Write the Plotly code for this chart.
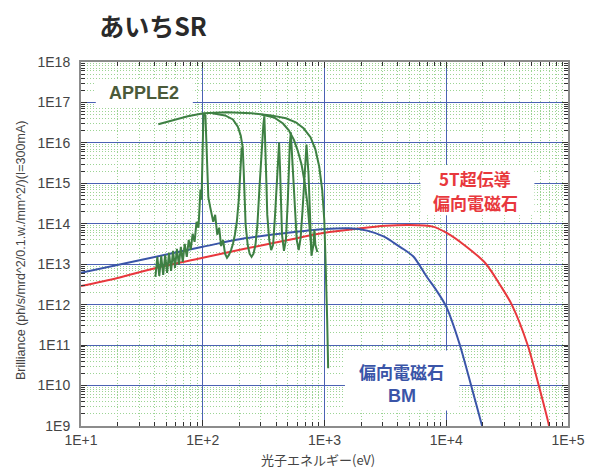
import plotly.graph_objects as go

# ---------------- data (log10 of energy [eV] and brilliance) ----------------
x_tick_vals = [10, 100, 1000, 10000, 100000]
x_tick_text = ["1E+1", "1E+2", "1E+3", "1E+4", "1E+5"]
y_tick_vals = [1e9, 1e10, 1e11, 1e12, 1e13, 1e14, 1e15, 1e16, 1e17, 1e18]
y_tick_text = ["1E9", "1E10", "1E11", "1E12", "1E13", "1E14", "1E15", "1E16", "1E17", "1E18"]

# 5T superconducting bending magnet (red)
sc_logE = [1.0, 1.3, 1.645, 2.0, 2.344, 2.7, 3.0, 3.27, 3.5, 3.7, 3.89, 4.0, 4.15, 4.32, 4.45, 4.54, 4.67, 4.76, 4.84, 4.87]
sc_logB = [12.46, 12.66, 12.93, 13.16, 13.38, 13.60, 13.78, 13.88, 13.95, 13.97, 13.93, 13.78, 13.47, 13.03, 12.45, 11.99, 10.99, 10.0, 9.06, 8.6]

# bending magnet BM (blue)
bm_logE = [1.0, 1.5, 2.0, 2.344, 2.68, 3.0, 3.2, 3.35, 3.49, 3.57, 3.65, 3.73, 3.84, 3.92, 4.0, 4.108, 4.20, 4.29, 4.32]
bm_logB = [12.79, 13.11, 13.43, 13.64, 13.77, 13.87, 13.89, 13.83, 13.68, 13.53, 13.37, 13.19, 12.69, 12.35, 11.95, 11.04, 10.05, 9.05, 8.7]

# APPLE2 undulator (green) - several traced pieces
apple_env_logE = [1.635, 1.756, 1.877, 2.006, 2.199, 2.401, 2.562, 2.683, 2.764, 2.828, 2.885, 2.925, 2.957, 2.981, 2.998, 3.006, 3.014, 3.022, 3.030]
apple_env_logB = [16.46, 16.56, 16.66, 16.73, 16.76, 16.73, 16.68, 16.61, 16.51, 16.36, 16.14, 15.84, 15.41, 14.84, 14.10, 13.35, 12.61, 11.62, 10.43]

apple_band_logE = [1.611, 1.627, 1.643, 1.659, 1.675, 1.691, 1.707, 1.723, 1.740, 1.756, 1.772, 1.788, 1.804, 1.820,
                   1.836, 1.852, 1.869, 1.885, 1.901, 1.917, 1.933, 1.949, 1.965, 1.981, 1.990, 1.998, 2.006,
                   2.022, 2.030, 2.038, 2.046, 2.062, 2.086, 2.102, 2.119, 2.135, 2.151, 2.167, 2.183, 2.199,
                   2.215, 2.232, 2.248, 2.264, 2.280, 2.296, 2.304, 2.312, 2.320]
apple_band_logB = [12.685, 13.181, 12.710, 13.206, 12.734, 13.231, 12.784, 13.280, 12.834, 13.330, 12.908, 13.380, 12.983, 13.429,
                   13.057, 13.504, 13.181, 13.603, 13.355, 13.752, 13.553, 14.050, 13.901, 14.844, 14.596, 16.084, 16.730,
                   16.68, 15.84, 15.09, 14.65, 14.40, 14.05, 14.22, 13.73, 13.90, 13.45, 13.60, 13.26, 13.16,
                   13.23, 13.35, 13.50, 13.73, 14.05, 14.60, 15.09, 15.59, 15.89]

apple_harm_logE = [2.078, 2.183, 2.248, 2.288, 2.312, 2.328, 2.336, 2.344, 2.352, 2.369, 2.385, 2.401, 2.417, 2.433,
                   2.449, 2.465, 2.482, 2.498, 2.506, 2.514, 2.522, 2.530, 2.546, 2.562, 2.578, 2.594, 2.611, 2.619,
                   2.627, 2.635, 2.643, 2.651, 2.667, 2.683, 2.699, 2.707, 2.715, 2.723, 2.740, 2.756, 2.772, 2.788,
                   2.804, 2.820, 2.836, 2.852, 2.869, 2.877, 2.885, 2.893, 2.909, 2.917, 2.925, 2.941]
apple_harm_logB = [16.73, 16.68, 16.58, 16.40, 16.18, 15.89, 15.34, 14.60, 13.98, 13.48, 13.26, 13.18, 13.26, 13.48,
                   13.98, 14.84, 15.84, 16.46, 16.66, 16.08, 15.09, 14.22, 13.60, 13.35, 13.48, 14.22, 15.09, 15.59,
                   16.01, 15.34, 14.47, 13.73, 13.33, 13.60, 14.60, 15.46, 15.96, 16.26, 15.34, 14.22, 13.60, 13.35,
                   13.65, 14.35, 15.22, 15.96, 15.22, 14.35, 13.60, 13.21, 13.48, 13.85, 13.48, 13.30]

apple_arc_logE = [2.482, 2.586, 2.659, 2.707, 2.748, 2.780, 2.812, 2.836, 2.861, 2.877, 2.893]
apple_arc_logB = [16.70, 16.63, 16.48, 16.31, 16.08, 15.81, 15.46, 15.04, 14.47, 13.90, 13.35]

# ---------------- figure ----------------
RED = "#e8383d"
BLUE = "#3a55a8"
GREEN = "#3e8043"
TXT = "Liberation Sans, Arial, Noto Sans CJK JP, sans-serif"
CJK = "Noto Sans CJK JP, Liberation Sans, sans-serif"


def p(v):
    return [10 ** a for a in v]


fig = go.Figure()
fig.add_trace(go.Scatter(x=p(sc_logE), y=p(sc_logB), mode="lines",
                         line=dict(color=RED, width=2, shape="spline", smoothing=0.8), hoverinfo="skip"))
fig.add_trace(go.Scatter(x=p(bm_logE), y=p(bm_logB), mode="lines",
                         line=dict(color=BLUE, width=2, shape="spline", smoothing=0.8), hoverinfo="skip"))
for ex, ey in [(apple_band_logE, apple_band_logB), (apple_harm_logE, apple_harm_logB),
               (apple_arc_logE, apple_arc_logB), (apple_env_logE, apple_env_logB)]:
    fig.add_trace(go.Scatter(x=p(ex), y=p(ey), mode="lines",
                             line=dict(color=GREEN, width=2), hoverinfo="skip"))

axis_common = dict(
    type="log", showline=True, linecolor="#8c8c8c", linewidth=2, mirror="allticks",
    ticks="inside", ticklen=6, tickcolor="#333333", tickwidth=1,
    showgrid=True, gridcolor="#4b62b3", gridwidth=1.2, zeroline=False,
    tickfont=dict(family=TXT, size=14, color="#444444"),
    minor=dict(dtick="D1", ticks="inside", ticklen=4, tickcolor="#333333",
               showgrid=True, gridcolor="#9cd494", griddash="1px,2px", gridwidth=1),
)
fig.update_xaxes(range=[1, 5], tickvals=x_tick_vals, ticktext=x_tick_text, **axis_common)
fig.update_yaxes(range=[9, 18], tickvals=y_tick_vals, ticktext=y_tick_text, ticklabelstandoff=6, **axis_common)

shapes = [
    dict(type="rect", xref="paper", yref="paper", x0=0.0304, x1=0.2296, y0=0.8735, y1=0.9505,
         fillcolor="white", line=dict(width=0), layer="above"),
    dict(type="rect", xref="paper", yref="paper", x0=0.697, x1=0.931, y0=0.579, y1=0.717,
         fillcolor="white", line=dict(width=0), layer="above"),
    dict(type="rect", xref="paper", yref="paper", x0=0.542, x1=0.777, y0=0.0426, y1=0.2077,
         fillcolor="white", line=dict(width=0), layer="above"),
]

ann = [
    dict(x=0.1284, y=0.9147, text="<b>APPLE2</b>", font=dict(family=TXT, size=18, color="#4b5a3a")),
    dict(x=0.810, y=0.6808, text="<b>5T超伝導</b>", font=dict(family=CJK, size=17, color=RED)),
    dict(x=0.810, y=0.6132, text="<b>偏向電磁石</b>", font=dict(family=CJK, size=17, color=RED)),
    dict(x=0.6587, y=0.1493, text="<b>偏向電磁石</b>", font=dict(family=CJK, size=17, color=BLUE)),
    dict(x=0.6587, y=0.0817, text="<b>BM</b>", font=dict(family=TXT, size=18, color=BLUE)),
    dict(x=0.487, y=-0.0922, text="光子エネルギー(eV)", font=dict(family=CJK, size=13, color="#444444")),
    dict(x=-0.1236, y=0.483, text="Brilliance (ph/s/mrd^2/0.1.w./mm^2/)(I=300mA)", textangle=-90,
         font=dict(family=TXT, size=12.5, color="#444444")),
]
for a in ann:
    a.update(xref="paper", yref="paper", showarrow=False, xanchor="center", yanchor="middle")

# page body has an 8px default margin, so the figure is sized/offset to compensate
fig.update_layout(
    width=589, height=461,
    margin=dict(l=73, r=20, t=54, b=43),
    paper_bgcolor="white", plot_bgcolor="white",
    showlegend=False,
    title=dict(text="<b>あいちSR</b>", x=0.2462, xref="container", xanchor="center",
               y=0.9588, yref="container", yanchor="middle",
               font=dict(family=CJK, size=25, color="#2a2a2a")),
    shapes=shapes, annotations=ann,
)

fig.write_html("out.html")
